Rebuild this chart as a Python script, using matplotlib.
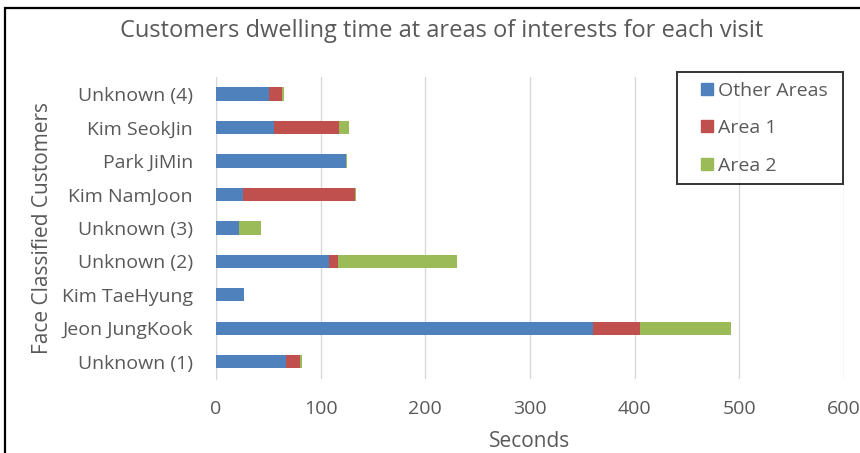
import matplotlib
matplotlib.use("Agg")
import matplotlib.pyplot as plt
from matplotlib.patches import Rectangle
from matplotlib.lines import Line2D

# bottom to top, as drawn
customers = ["Unknown (1)", "Jeon JungKook", "Kim TaeHyung", "Unknown (2)", "Unknown (3)",
             "Kim NamJoon", "Park JiMin", "Kim SeokJin", "Unknown (4)"]
other_areas = [66.6, 360.6, 27.0, 107.7, 22.3, 25.5, 123.9, 55.7, 50.6]
area_1 = [14.0, 44.3, 0.0, 8.9, 0.0, 107.3, 0.0, 62.1, 12.8]
area_2 = [1.6, 87.1, 0.0, 113.7, 21.0, 1.3, 1.3, 9.3, 1.6]
series_names = ["Other Areas", "Area 1", "Area 2"]
colors = ["#4f81bd", "#c0504d", "#9bbb59"]
x_ticks = [0, 100, 200, 300, 400, 500, 600]

plt.rcParams["font.family"] = ["Open Sans", "DejaVu Sans"]
text_col = "#595959"

fig = plt.figure(figsize=(8.6, 4.53), dpi=100)
ax = fig.add_axes([0.2512, 0.164, 0.7302, 0.6655])

# outer chart border (chart is cut off at right and bottom)
fig.patches.append(Rectangle((5 / 860, -0.1), 1.2, 1 - 8 / 453 + 0.1, transform=fig.transFigure,
                             fill=False, edgecolor="black", linewidth=1.6))

h = 0.39
ypos = list(range(len(customers)))
ax.barh(ypos, other_areas, height=h, color=colors[0], zorder=3)
ax.barh(ypos, area_1, height=h, left=other_areas, color=colors[1], zorder=3)
left3 = [a + b for a, b in zip(other_areas, area_1)]
ax.barh(ypos, area_2, height=h, left=left3, color=colors[2], zorder=3)

ax.set_xlim(0, 600)
ax.set_ylim(-0.5, len(customers) - 0.5)
ax.set_xticks(x_ticks)
ax.set_yticks(ypos)
ax.set_yticklabels(customers)
ax.xaxis.grid(True, color="#d9d9d9", linewidth=1, zorder=0)
for s in ["top", "right", "bottom"]:
    ax.spines[s].set_visible(False)
ax.spines["left"].set_color("#d9d9d9")
ax.tick_params(length=0, labelsize=14, labelcolor=text_col)
ax.tick_params(axis="x", pad=15)
ax.tick_params(axis="y", pad=16.5)

ax.set_xlabel("Seconds", fontsize=15, color=text_col, va="center")
ax.xaxis.set_label_coords(0.5, (378.7 - 441) / 301.45)
ax.set_ylabel("Face Classified Customers", fontsize=15, color=text_col, va="center")
ax.yaxis.set_label_coords((42 - 216) / 628, 0.5)

fig.text(442 / 860, 1 - 31 / 453, "Customers dwelling time at areas of interests for each visit",
         ha="center", va="center", fontsize=17, color=text_col)

handles = [Line2D([], [], ls="none", marker="s", markersize=9.2, color=c) for c in colors]
leg = ax.legend(handles, series_names, loc="upper left", mode="expand",
                bbox_to_anchor=(677 / 860, 1 - 184 / 453, 166 / 860, 112 / 453),
                bbox_transform=fig.transFigure, frameon=True, fancybox=False,
                fontsize=14, labelcolor=text_col, handlelength=2.04, handletextpad=-0.45,
                labelspacing=1.0, borderpad=0.5, borderaxespad=0)
leg.get_frame().set_edgecolor("black")
leg.get_frame().set_linewidth(1.4)

fig.savefig("out.png", dpi=100)
